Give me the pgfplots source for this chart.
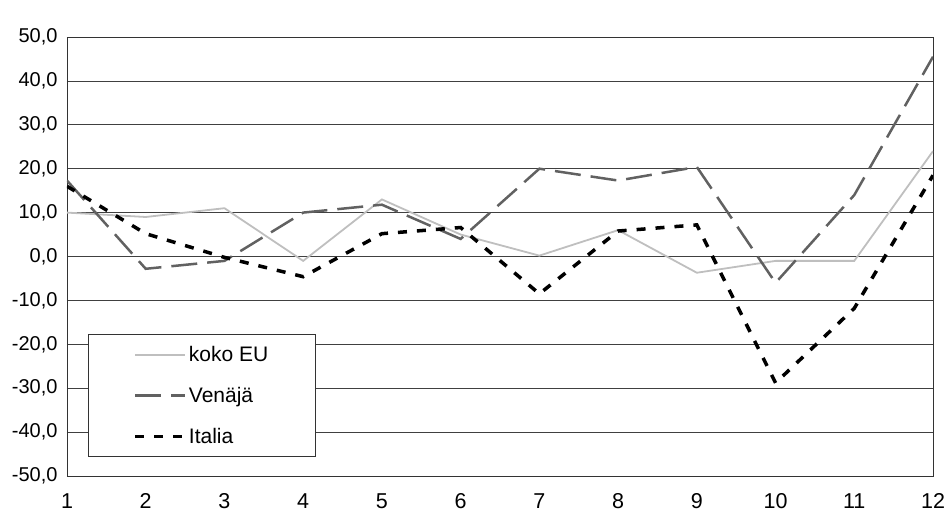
\documentclass[border=0pt]{standalone}
\usepackage{pgfplots}
\pgfplotsset{compat=1.18}
\usepackage{fontspec}
\setmainfont{Liberation Sans}
\begin{document}
\begin{tikzpicture}
\begin{axis}[
  scale only axis, width=866pt, height=439pt,
  xmin=1, xmax=12, ymin=-50, ymax=50,
  xtick={1,...,12}, ytick={-50,-40,...,50},
  ymajorgrids, major grid style={black!75, line width=0.7pt},
  major tick length=0pt,
  axis line style={black!80, line width=0.8pt},
  /pgf/number format/assume math mode=true,
  yticklabel style={font=\fontsize{20}{23}\selectfont, xshift=-6pt, /pgf/number format/fixed, /pgf/number format/fixed zerofill, /pgf/number format/precision=1, /pgf/number format/use comma},
  xticklabel style={font=\fontsize{21.5}{24}\selectfont, yshift=-14pt},
  legend style={at={(axis cs:1.267,-45.7)}, anchor=south west, draw=black!80, line width=0.8pt,
    inner xsep=45pt, inner ysep=10pt, row sep=20pt, font=\fontsize{21}{24}\selectfont},
  legend cell align=left,
  legend image code/.code={\draw[#1] (0pt,0pt) -- (50pt,0pt);},
]
\addplot[gray!50, line width=1.8pt] coordinates {
(1,10.0) (2,9.0) (3,11.0) (4,-1.0) (5,13.0) (6,5.0) (7,0.2) (8,6.0) (9,-3.7) (10,-1.0) (11,-1.0) (12,24.0)};
\addlegendentry{koko EU}
\addplot[black!62, line width=2.5pt, dash pattern=on 26pt off 10pt] coordinates {
(1,17.3) (2,-2.8) (3,-1.0) (4,10.0) (5,11.8) (6,4.0) (7,20.0) (8,17.3) (9,20.4) (10,-6.0) (11,14.0) (12,45.5)};
\addlegendentry{Venäjä}
\addplot[black, line width=3.5pt, dash pattern=on 9pt off 10pt] coordinates {
(1,16.0) (2,5.2) (3,-0.2) (4,-4.6) (5,5.2) (6,6.6) (7,-8.5) (8,5.8) (9,7.2) (10,-28.8) (11,-11.8) (12,18.5)};
\addlegendentry{Italia}
\node[font=\bfseries\fontsize{20}{22}\selectfont] at (rel axis cs:0,1) [xshift=-37pt, yshift=21pt] {\%};
\end{axis}
\pgfresetboundingbox
\useasboundingbox (-67pt,-40pt) rectangle (877pt,476pt);
\end{tikzpicture}
\end{document}
